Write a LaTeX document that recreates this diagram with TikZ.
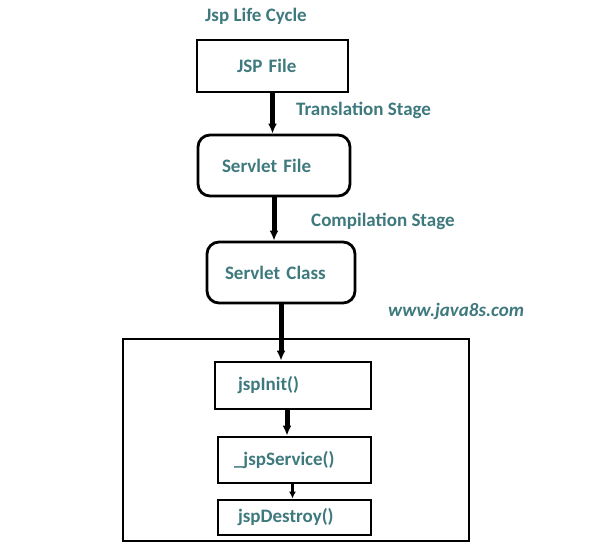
\documentclass[tikz,border=0pt]{standalone}
\usepackage{fontspec}
\setmainfont{Carlito}
\usetikzlibrary{arrows.meta}
\definecolor{jteal}{RGB}{62,121,126}
\begin{document}
\begin{tikzpicture}[x=1pt,y=-1pt]
				\tikzset{b/.style n args={3}{draw,line width=2.8pt,text=jteal,font=\fontsize{19}{22}\selectfont\bfseries,align=left,inner xsep=#1,inner ysep=0pt,text width=#2-2*#1,minimum height=#3},
					rb/.style n args={3}{b={#1}{#2}{#3},rounded corners=12pt},
					t/.style={text=jteal,font=\fontsize{19}{22}\selectfont\bfseries,anchor=west,inner sep=0pt},
					a/.style={line width=5pt,-{Latex[length=10pt,width=9pt]}}}
				\useasboundingbox(0,0)rectangle(609,554);
				\node[t](title)at(205,16){Jsp Life Cycle};
				\node[b={40pt}{151pt}{52pt}](jsp)at(272.5,66){JSP File};
				\node[rb={24pt}{152pt}{61pt}](sfile)at(274,165.5){Servlet File};
				\node[rb={18pt}{148pt}{61pt}](sclass)at(281,272.5){Servlet Class};
				\node[draw,line width=2.8pt,minimum width=346pt,minimum height=202pt](frame)at(296,440){};
				\node[b={23pt}{156pt}{47pt}](init)at(293,385.5){jspInit()};
				\node[b={16pt}{153pt}{46pt}](service)at(294.5,460){\_jspService()};
				\node[b={20pt}{153pt}{35pt}](destroy)at(294.5,517.5){jspDestroy()};
				%%nhãn bên phải
				\node[t](tstage)at(296,110){Translation Stage};
				\node[t](cstage)at(311,221){Compilation Stage};
				\node[t,font=\fontsize{19}{22}\selectfont\bfseries\itshape](site)at(388,311){www.java8s.com};
				\foreach \x/\y in {jsp/sfile,sfile/sclass,sclass/init}
				\draw[a](\x.south)--(\x.south|-\y.north);
				\draw[a]([xshift=-6pt]init.south)--([xshift=-6pt]init.south|-service.north);
				\draw[line width=3.5pt,-{Latex[length=7pt,width=7pt]}]([xshift=-2pt]service.south)--([xshift=-2pt]service.south|-destroy.north);
\end{tikzpicture}
\end{document}
